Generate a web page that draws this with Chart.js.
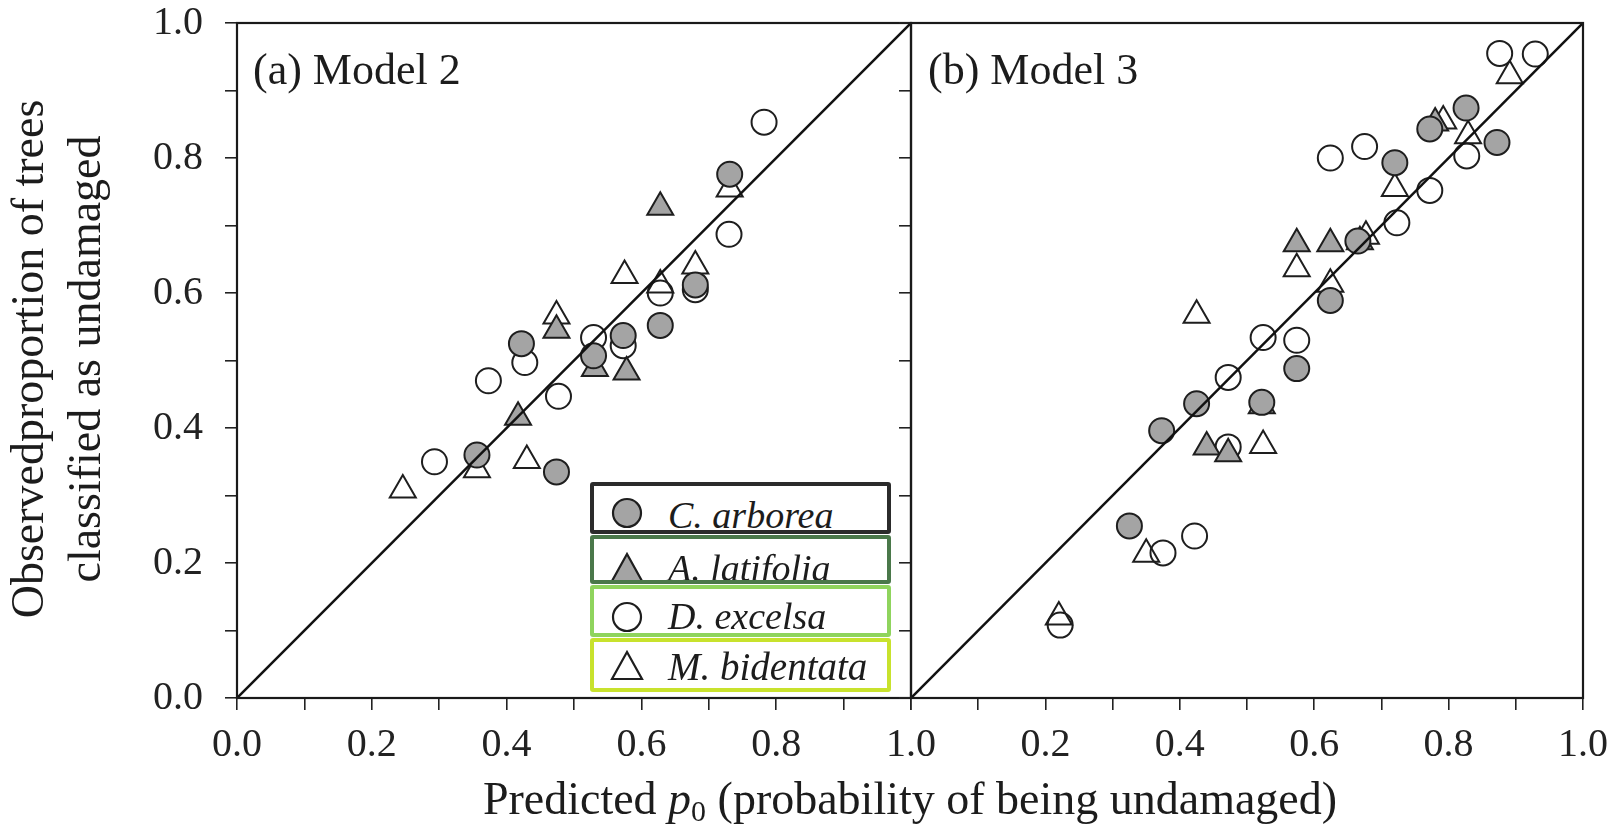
<!DOCTYPE html>
<html lang="en">
<head>
<meta charset="UTF-8">
<title>Observed vs predicted p0 - Model 2 and Model 3</title>
<script src="https://cdn.jsdelivr.net/npm/chart.js"></script>
<style>
  body { margin: 0; background: #fff; }
  #wrap { position: relative; width: 1623px; height: 835px; overflow: hidden; font-family: "Liberation Serif", serif; color: #1c1c1c; }
  canvas { position: absolute; top: 0; }
  #chartA { left: 0; }
  #chartB { left: 880px; }
  .ytitle { position: absolute; left: -244px; top: 302px; width: 600px; height: 114px; font-size: 46px; line-height: 57px; text-align: center; transform: rotate(-90deg); white-space: nowrap; }
  .xtitle { position: absolute; left: 310px; top: 774px; width: 1200px; font-size: 46px; line-height: 50px; text-align: center; white-space: nowrap; }
  .xtitle sub { font-size: 0.65em; vertical-align: -0.25em; line-height: 0; }
  .lg { position: absolute; left: 590px; width: 301px; box-sizing: border-box; border: 4px solid; border-radius: 3px; background: #fff; overflow: hidden; }
  .lg svg { position: absolute; left: 15px; }
  .lg span { position: absolute; left: 74px; font-style: italic; font-size: 38px; line-height: 38px; white-space: nowrap; }
</style>
</head>
<body>
<div id="wrap">
  <canvas id="chartA" width="960" height="790"></canvas>
  <canvas id="chartB" width="743" height="790"></canvas>

  <div class="ytitle">Observedproportion of trees<br>classified as undamaged</div>
  <div class="xtitle">Predicted <i>p</i><sub>0</sub> (probability of being undamaged)</div>

  <!-- legend boxes -->
  <div class="lg" style="top:482px;height:52px;border-color:#2b2b2b">
    <svg width="36" height="36" style="top:9px"><circle cx="18" cy="18" r="14" fill="#a4a4a4" stroke="#1e1e1e" stroke-width="2.2"/></svg>
    <span style="top:10px">C. arborea</span>
  </div>
  <div class="lg" style="top:535px;height:49px;border-color:#4a784a">
    <svg width="36" height="36" style="top:11px"><polygon points="18,4 3,31 33,31" fill="#a4a4a4" stroke="#1e1e1e" stroke-width="2.2"/></svg>
    <span style="top:10px">A. latifolia</span>
  </div>
  <div class="lg" style="top:585px;height:52px;border-color:#8fd45d">
    <svg width="36" height="36" style="top:10px"><circle cx="18" cy="18" r="14" fill="none" stroke="#1e1e1e" stroke-width="2.2"/></svg>
    <span style="top:8px">D. excelsa</span>
  </div>
  <div class="lg" style="top:638px;height:54px;border-color:#c8e22d">
    <svg width="36" height="36" style="top:6px"><polygon points="18,4 3,31 33,31" fill="none" stroke="#1e1e1e" stroke-width="2.2"/></svg>
    <span style="top:6px;font-size:39px">M. bidentata</span>
  </div>
</div>

<script>
  // Model 2 - panel (a)
  const m2ArboreaX = [0.731, 0.680, 0.628, 0.573, 0.529, 0.422, 0.356, 0.474];
  const m2ArboreaY = [0.776, 0.612, 0.552, 0.537, 0.507, 0.525, 0.360, 0.335];
  const m2LatifoliaX = [0.628, 0.474, 0.531, 0.578, 0.417];
  const m2LatifoliaY = [0.727, 0.545, 0.488, 0.483, 0.416];
  const m2ExcelsaX = [0.782, 0.730, 0.628, 0.680, 0.529, 0.573, 0.427, 0.373, 0.477, 0.293];
  const m2ExcelsaY = [0.853, 0.687, 0.600, 0.605, 0.534, 0.522, 0.497, 0.470, 0.447, 0.350];
  const m2BidentataX = [0.731, 0.680, 0.575, 0.628, 0.474, 0.430, 0.356, 0.246];
  const m2BidentataY = [0.754, 0.640, 0.626, 0.612, 0.566, 0.352, 0.338, 0.308];

  // Model 3 - panel (b)
  const m3ArboreaX = [0.826, 0.872, 0.772, 0.720, 0.665, 0.624, 0.574, 0.522, 0.425, 0.373, 0.325];
  const m3ArboreaY = [0.874, 0.823, 0.843, 0.793, 0.677, 0.589, 0.488, 0.438, 0.436, 0.396, 0.255];
  const m3LatifoliaX = [0.780, 0.668, 0.574, 0.624, 0.522, 0.440, 0.472];
  const m3LatifoliaY = [0.852, 0.676, 0.673, 0.673, 0.433, 0.372, 0.362];
  const m3ExcelsaX = [0.876, 0.929, 0.827, 0.675, 0.624, 0.772, 0.723, 0.524, 0.574, 0.472, 0.472, 0.375, 0.422, 0.222];
  const m3ExcelsaY = [0.955, 0.954, 0.803, 0.817, 0.800, 0.752, 0.704, 0.534, 0.530, 0.475, 0.372, 0.215, 0.240, 0.108];
  const m3BidentataX = [0.891, 0.792, 0.829, 0.720, 0.677, 0.574, 0.624, 0.425, 0.524, 0.350, 0.220];
  const m3BidentataY = [0.922, 0.855, 0.833, 0.755, 0.684, 0.636, 0.613, 0.567, 0.374, 0.213, 0.120];

  // 1:1 reference line
  const oneToOne = [0, 1];

  const species = ["C. arborea", "A. latifolia", "D. excelsa", "M. bidentata"];

  const INK = "#1e1e1e";
  const GREY = "#a4a4a4";
  const xTickFont = { family: '"Liberation Serif", serif', size: 40, lineHeight: 1 };
  // tiny lineHeight keeps the top label from pushing the plot area down
  const yTickFont = { family: '"Liberation Serif", serif', size: 40, lineHeight: 0.02 };

  const pts = (xs, ys) => xs.map((x, i) => ({ x: x, y: ys[i] }));

  function pointSet(label, xs, ys, style, filled) {
    return {
      label: label,
      data: pts(xs, ys),
      order: 1,
      pointStyle: style,
      pointRadius: style === "triangle" ? 15 : 12.5,
      borderWidth: 2,
      borderColor: INK,
      backgroundColor: filled ? GREY : "rgba(0,0,0,0)"
    };
  }

  const tickText = v => (Math.round(v * 10) % 2 === 0 ? v.toFixed(1) : "");

  // frame around the plot area + panel label
  const panelDecor = {
    id: "panelDecor",
    afterDraw(chart, args, opts) {
      const { ctx, chartArea: a } = chart;
      ctx.save();
      ctx.strokeStyle = "#1a1a1a";
      ctx.lineWidth = 2.2;
      ctx.strokeRect(a.left, a.top, a.right - a.left, a.bottom - a.top);
      ctx.fillStyle = "#1c1c1c";
      ctx.font = '44px "Liberation Serif", serif';
      ctx.textBaseline = "alphabetic";
      ctx.fillText(opts.text, a.left + opts.dx, 84);
      ctx.restore();
    }
  };

  function makePanel(id, sets, opt) {
    const d = sets.map((s, i) => pointSet(species[i], s[0], s[1], i % 2 === 0 ? "circle" : "triangle", i < 2));
    d.unshift({
      label: "1:1",
      data: pts(oneToOne, oneToOne),
      showLine: true,
      order: 0,
      pointRadius: 0,
      borderColor: "#111",
      borderWidth: 2.5
    });
    return new Chart(document.getElementById(id), {
      type: "scatter",
      data: { datasets: d },
      options: {
        responsive: false,
        animation: false,
        layout: { padding: { left: 0, top: 23, right: opt.padRight, bottom: 0 } },
        plugins: {
          legend: { display: false },
          tooltip: { enabled: false },
          panelDecor: { text: opt.label, dx: opt.labelDx }
        },
        scales: {
          x: {
            type: "linear", min: 0, max: 1,
            border: { display: false },
            grid: { drawOnChartArea: false, drawTicks: true, tickLength: 12, color: "#222", lineWidth: 1.6 },
            ticks: { stepSize: 0.1, autoSkip: false, maxRotation: 0, padding: 15, color: "#222", font: xTickFont, callback: opt.xLabel },
            afterFit: s => { s.height = 92; }
          },
          y: {
            type: "linear", min: 0, max: 1,
            border: { display: false },
            grid: { drawOnChartArea: false, drawTicks: true, tickLength: 12, color: "#222", lineWidth: 1.6 },
            ticks: { stepSize: 0.1, autoSkip: false, padding: 22, color: "#222", font: yTickFont, callback: opt.yLabel },
            afterFit: s => { s.width = opt.yWidth; }
          }
        }
      },
      plugins: [panelDecor]
    });
  }

  makePanel("chartA", [
    [m2ArboreaX, m2ArboreaY],
    [m2LatifoliaX, m2LatifoliaY],
    [m2ExcelsaX, m2ExcelsaY],
    [m2BidentataX, m2BidentataY]
  ], { label: "(a) Model 2", labelDx: 16, padRight: 49, yWidth: 237, xLabel: tickText, yLabel: tickText });

  makePanel("chartB", [
    [m3ArboreaX, m3ArboreaY],
    [m3LatifoliaX, m3LatifoliaY],
    [m3ExcelsaX, m3ExcelsaY],
    [m3BidentataX, m3BidentataY]
  ], { label: "(b) Model 3", labelDx: 17, padRight: 40, yWidth: 31,
       xLabel: v => (v < 0.05 ? "" : tickText(v)), yLabel: () => "" });
</script>
</body>
</html>
